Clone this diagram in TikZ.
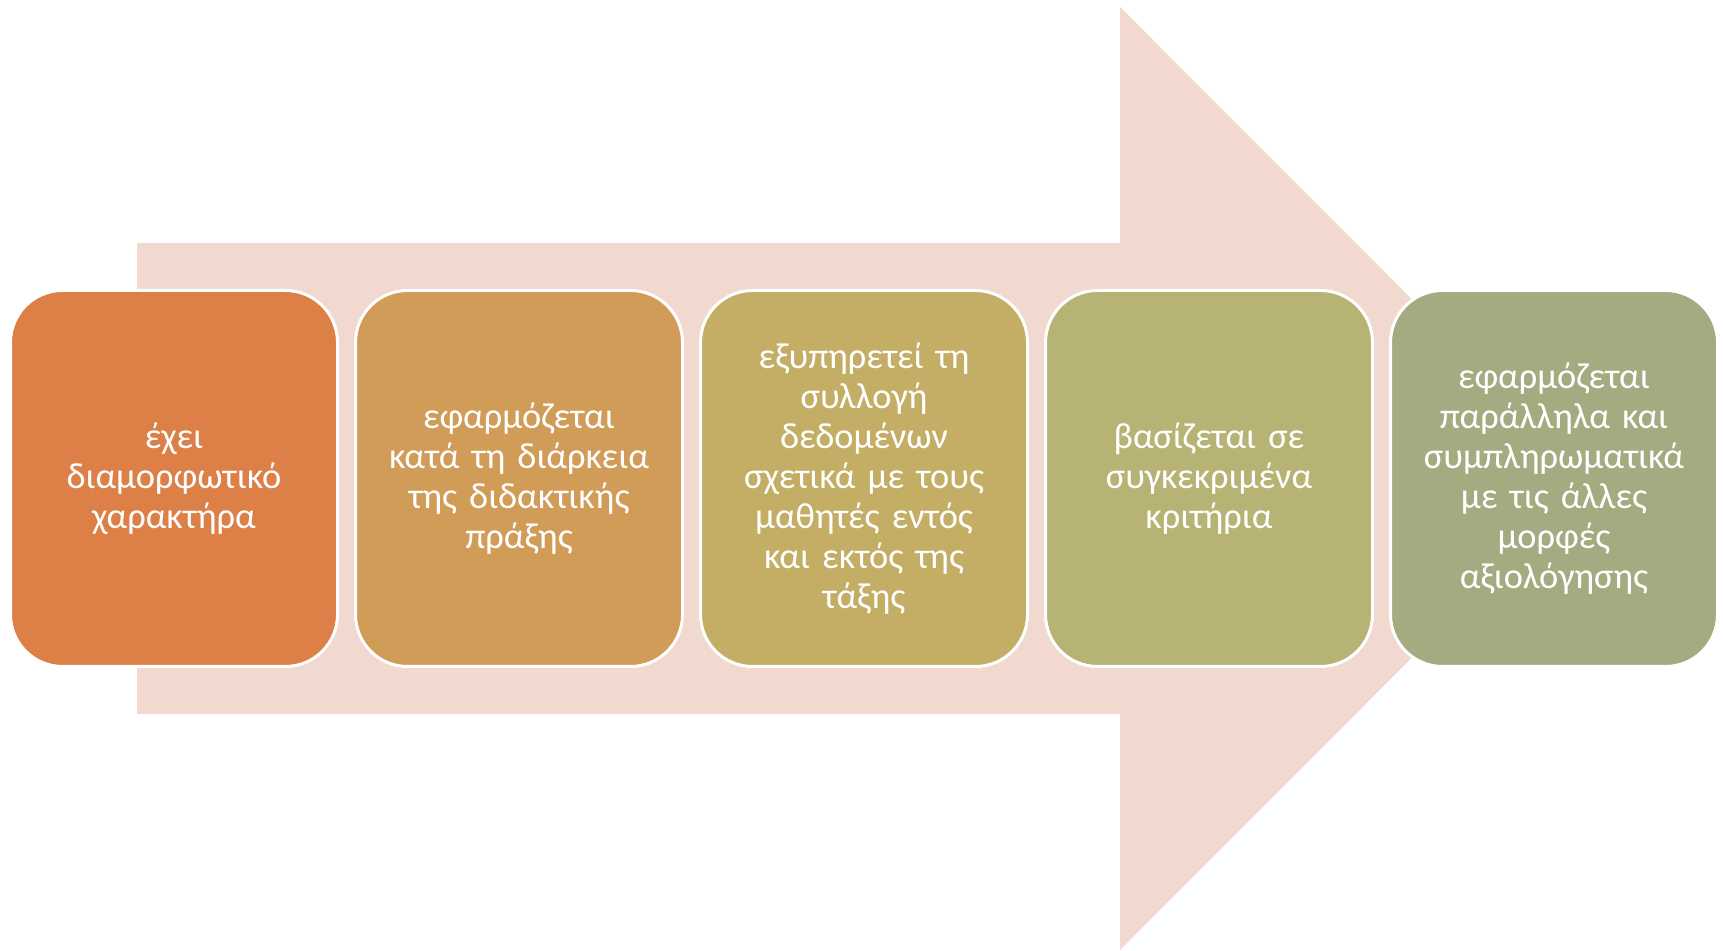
\documentclass[tikz,border=0pt]{standalone}
\usepackage{fontspec}
\setmainfont{Carlito}
\usetikzlibrary{positioning}
\definecolor{arrowpink}{HTML}{F2D9D0}
\definecolor{stepa}{HTML}{DD8047}
\definecolor{stepb}{HTML}{D19C57}
\definecolor{stepc}{HTML}{C4AE65}
\definecolor{stepd}{HTML}{B7B374}
\definecolor{stepe}{HTML}{A5AB81}
\tikzstyle{stage} = [rectangle, rounded corners=26pt, draw=white, line width=1.5pt, outer sep=0pt,
  minimum width=163.5pt, minimum height=188pt, text width=158pt, align=center, inner sep=0pt,
  text=white, font=\fontsize{18.2}{20}\selectfont]

\begin{document}
\begin{tikzpicture}[x=0.5pt, y=0.5pt, node distance=172.5pt]
    \useasboundingbox (0,0) rectangle (1723,951);

    % big arrow behind the boxes
    \fill[arrowpink] (137,708) -- (1120,708) -- (1120,944) -- (1591,472.5)
        -- (1120,1) -- (1120,237) -- (137,237) -- cycle;

    \node[stage, fill=stepa] (b1) at (174,472.5) {έχει\\ διαμορφωτικό\\ χαρακτήρα};
    \node[stage, fill=stepb] (b2) [right of=b1] {εφαρμόζεται\\ κατά τη διάρκεια\\ της διδακτικής\\ πράξης};
    \node[stage, fill=stepc] (b3) [right of=b2] {εξυπηρετεί τη\\ συλλογή\\ δεδομένων\\ σχετικά με τους\\ μαθητές εντός\\ και εκτός της\\ τάξης};
    \node[stage, fill=stepd] (b4) [right of=b3] {βασίζεται σε\\ συγκεκριμένα\\ κριτήρια};
    \node[stage, fill=stepe] (b5) [right of=b4] {εφαρμόζεται\\ παράλληλα και\\ συμπληρωματικά\\ με τις άλλες\\ μορφές\\ αξιολόγησης};

\end{tikzpicture}
\end{document}
